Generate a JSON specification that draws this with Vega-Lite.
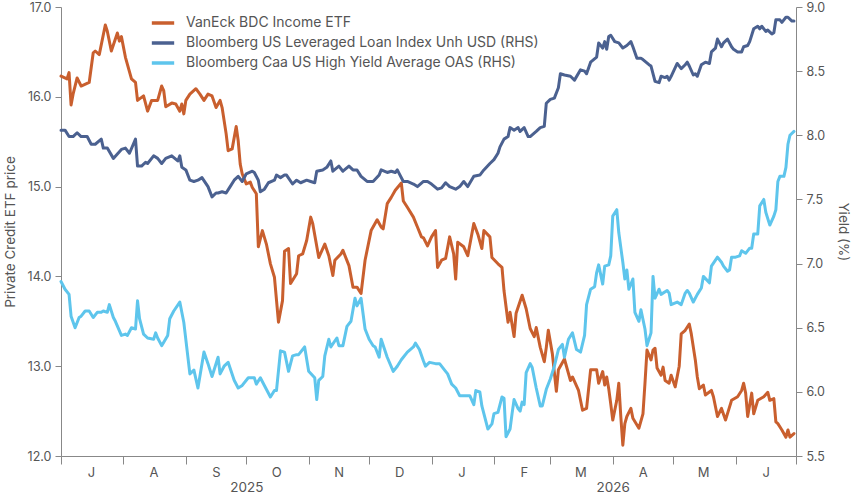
{
"$schema": "https://vega.github.io/schema/vega-lite/v6.json",
"width": 735, "height": 449,
"autosize": {"type": "none"},
"padding": {"left": 61, "top": 7, "right": 59, "bottom": 41},
"background": "white",
"config": {
 "view": {"stroke": null},
 "font": "Inter",
 "axis": {"grid": false, "labelFont": "Inter", "titleFont": "Inter", "labelColor": "#555", "titleColor": "#555", "domainColor": "#888", "tickColor": "#888", "labelFontSize": 12.5, "titleFontSize": 13.5, "titleFontWeight": "normal"},
 "legend": {"labelFont": "Inter", "labelFontSize": 14, "labelColor": "#555"}
},
"datasets": {
 "etf": [
  {"date":"2025-07-01","value":16.23},{"date":"2025-07-04","value":16.20},{"date":"2025-07-05","value":16.27},{"date":"2025-07-06","value":15.91},{"date":"2025-07-07","value":16.03},{"date":"2025-07-09","value":16.21},{"date":"2025-07-11","value":16.12},{"date":"2025-07-15","value":16.16},{"date":"2025-07-17","value":16.49},{"date":"2025-07-18","value":16.51},{"date":"2025-07-20","value":16.47},{"date":"2025-07-23","value":16.80},{"date":"2025-07-24","value":16.73},{"date":"2025-07-26","value":16.51},{"date":"2025-07-29","value":16.71},{"date":"2025-07-30","value":16.62},{"date":"2025-07-31","value":16.67},
  {"date":"2025-08-02","value":16.44},{"date":"2025-08-05","value":16.20},{"date":"2025-08-07","value":16.16},{"date":"2025-08-08","value":15.96},{"date":"2025-08-11","value":16.01},{"date":"2025-08-13","value":15.84},{"date":"2025-08-15","value":15.96},{"date":"2025-08-18","value":15.96},{"date":"2025-08-20","value":16.12},{"date":"2025-08-21","value":16.07},{"date":"2025-08-22","value":15.89},{"date":"2025-08-25","value":15.93},{"date":"2025-08-27","value":15.92},{"date":"2025-08-29","value":15.84},{"date":"2025-08-30","value":15.92},{"date":"2025-08-31","value":15.81},
  {"date":"2025-09-01","value":15.96},{"date":"2025-09-03","value":16.03},{"date":"2025-09-06","value":16.09},{"date":"2025-09-08","value":16.03},{"date":"2025-09-10","value":15.96},{"date":"2025-09-12","value":16.03},{"date":"2025-09-14","value":16.01},{"date":"2025-09-16","value":15.88},{"date":"2025-09-18","value":15.96},{"date":"2025-09-19","value":15.88},{"date":"2025-09-21","value":15.59},{"date":"2025-09-22","value":15.40},{"date":"2025-09-24","value":15.42},{"date":"2025-09-26","value":15.67},{"date":"2025-09-27","value":15.51},{"date":"2025-09-28","value":15.25},{"date":"2025-09-29","value":15.14},
  {"date":"2025-10-01","value":15.03},{"date":"2025-10-03","value":15.05},{"date":"2025-10-04","value":14.99},{"date":"2025-10-06","value":14.92},{"date":"2025-10-07","value":14.33},{"date":"2025-10-09","value":14.51},{"date":"2025-10-11","value":14.36},{"date":"2025-10-13","value":14.14},{"date":"2025-10-15","value":13.99},{"date":"2025-10-17","value":13.49},{"date":"2025-10-19","value":13.73},{"date":"2025-10-20","value":14.28},{"date":"2025-10-22","value":14.31},{"date":"2025-10-23","value":13.92},{"date":"2025-10-26","value":14.03},{"date":"2025-10-27","value":14.23},{"date":"2025-10-29","value":14.25},{"date":"2025-10-31","value":14.40},
  {"date":"2025-11-02","value":14.66},{"date":"2025-11-03","value":14.59},{"date":"2025-11-06","value":14.21},{"date":"2025-11-09","value":14.36},{"date":"2025-11-11","value":14.23},{"date":"2025-11-13","value":14.01},{"date":"2025-11-14","value":14.18},{"date":"2025-11-17","value":14.25},{"date":"2025-11-18","value":14.29},{"date":"2025-11-21","value":14.12},{"date":"2025-11-23","value":13.88},{"date":"2025-11-25","value":13.88},{"date":"2025-11-27","value":13.81},{"date":"2025-11-29","value":14.18},
  {"date":"2025-12-02","value":14.51},{"date":"2025-12-05","value":14.63},{"date":"2025-12-07","value":14.55},{"date":"2025-12-08","value":14.53},{"date":"2025-12-10","value":14.81},{"date":"2025-12-12","value":14.88},{"date":"2025-12-14","value":14.96},{"date":"2025-12-17","value":15.04},{"date":"2025-12-18","value":14.84},{"date":"2025-12-20","value":14.77},{"date":"2025-12-23","value":14.66},{"date":"2025-12-25","value":14.55},{"date":"2025-12-27","value":14.44},{"date":"2025-12-28","value":14.43},{"date":"2025-12-30","value":14.34},
  {"date":"2026-01-01","value":14.44},{"date":"2026-01-03","value":14.51},{"date":"2026-01-04","value":14.10},{"date":"2026-01-06","value":14.18},{"date":"2026-01-08","value":14.20},{"date":"2026-01-10","value":14.44},{"date":"2026-01-12","value":14.25},{"date":"2026-01-13","value":13.97},{"date":"2026-01-14","value":14.38},{"date":"2026-01-17","value":14.33},{"date":"2026-01-19","value":14.23},{"date":"2026-01-22","value":14.59},{"date":"2026-01-24","value":14.47},{"date":"2026-01-26","value":14.31},{"date":"2026-01-27","value":14.51},{"date":"2026-01-30","value":14.44},{"date":"2026-01-31","value":14.21},
  {"date":"2026-02-03","value":14.14},{"date":"2026-02-05","value":14.10},{"date":"2026-02-06","value":13.84},{"date":"2026-02-08","value":13.49},{"date":"2026-02-09","value":13.60},{"date":"2026-02-11","value":13.33},{"date":"2026-02-12","value":13.59},{"date":"2026-02-15","value":13.79},{"date":"2026-02-17","value":13.64},{"date":"2026-02-19","value":13.42},{"date":"2026-02-21","value":13.33},{"date":"2026-02-22","value":13.43},{"date":"2026-02-24","value":13.21},{"date":"2026-02-26","value":13.05},{"date":"2026-02-27","value":13.21},{"date":"2026-02-28","value":13.40},
  {"date":"2026-03-02","value":13.14},{"date":"2026-03-04","value":12.72},{"date":"2026-03-05","value":12.96},{"date":"2026-03-08","value":13.08},{"date":"2026-03-11","value":12.84},{"date":"2026-03-12","value":12.88},{"date":"2026-03-15","value":12.73},{"date":"2026-03-17","value":12.51},{"date":"2026-03-19","value":12.53},{"date":"2026-03-21","value":12.96},{"date":"2026-03-24","value":12.96},{"date":"2026-03-25","value":12.81},{"date":"2026-03-27","value":12.94},{"date":"2026-03-28","value":12.79},{"date":"2026-03-29","value":12.88},{"date":"2026-03-30","value":12.75},{"date":"2026-03-31","value":12.58},
  {"date":"2026-04-01","value":12.40},{"date":"2026-04-03","value":12.62},{"date":"2026-04-04","value":12.81},{"date":"2026-04-05","value":12.44},{"date":"2026-04-06","value":12.12},{"date":"2026-04-07","value":12.36},{"date":"2026-04-08","value":12.44},{"date":"2026-04-10","value":12.53},{"date":"2026-04-11","value":12.42},{"date":"2026-04-14","value":12.31},{"date":"2026-04-16","value":12.47},{"date":"2026-04-17","value":12.81},{"date":"2026-04-18","value":13.18},{"date":"2026-04-20","value":13.07},{"date":"2026-04-21","value":13.18},{"date":"2026-04-22","value":13.20},{"date":"2026-04-23","value":12.98},{"date":"2026-04-25","value":12.90},{"date":"2026-04-26","value":12.99},{"date":"2026-04-27","value":12.84},{"date":"2026-04-29","value":12.81},{"date":"2026-04-30","value":12.90},
  {"date":"2026-05-02","value":12.77},{"date":"2026-05-04","value":13.00},{"date":"2026-05-05","value":13.36},{"date":"2026-05-07","value":13.40},{"date":"2026-05-09","value":13.47},{"date":"2026-05-10","value":13.36},{"date":"2026-05-12","value":13.07},{"date":"2026-05-13","value":12.88},{"date":"2026-05-14","value":12.75},{"date":"2026-05-16","value":12.79},{"date":"2026-05-17","value":12.68},{"date":"2026-05-20","value":12.73},{"date":"2026-05-21","value":12.66},{"date":"2026-05-23","value":12.44},{"date":"2026-05-25","value":12.53},{"date":"2026-05-27","value":12.40},{"date":"2026-05-30","value":12.62},
  {"date":"2026-06-02","value":12.66},{"date":"2026-06-04","value":12.73},{"date":"2026-06-05","value":12.81},{"date":"2026-06-06","value":12.70},{"date":"2026-06-07","value":12.44},{"date":"2026-06-09","value":12.70},{"date":"2026-06-10","value":12.47},{"date":"2026-06-12","value":12.62},{"date":"2026-06-15","value":12.66},{"date":"2026-06-17","value":12.71},{"date":"2026-06-18","value":12.62},{"date":"2026-06-20","value":12.64},{"date":"2026-06-21","value":12.38},{"date":"2026-06-22","value":12.36},{"date":"2026-06-24","value":12.29},{"date":"2026-06-26","value":12.21},{"date":"2026-06-27","value":12.29},{"date":"2026-06-28","value":12.21},{"date":"2026-06-30","value":12.25}
 ],
 "loan": [
  {"date":"2025-07-01","value":8.04},{"date":"2025-07-03","value":8.04},{"date":"2025-07-05","value":7.99},{"date":"2025-07-07","value":7.99},{"date":"2025-07-09","value":8.02},{"date":"2025-07-11","value":7.99},{"date":"2025-07-14","value":7.99},{"date":"2025-07-16","value":7.93},{"date":"2025-07-18","value":7.93},{"date":"2025-07-21","value":7.97},{"date":"2025-07-22","value":7.90},{"date":"2025-07-24","value":7.90},{"date":"2025-07-27","value":7.82},{"date":"2025-07-31","value":7.89},
  {"date":"2025-08-02","value":7.90},{"date":"2025-08-04","value":7.86},{"date":"2025-08-07","value":7.97},{"date":"2025-08-08","value":7.76},{"date":"2025-08-10","value":7.76},{"date":"2025-08-12","value":7.79},{"date":"2025-08-13","value":7.78},{"date":"2025-08-16","value":7.84},{"date":"2025-08-18","value":7.82},{"date":"2025-08-20","value":7.78},{"date":"2025-08-22","value":7.82},{"date":"2025-08-25","value":7.84},{"date":"2025-08-28","value":7.80},{"date":"2025-08-29","value":7.84},{"date":"2025-08-30","value":7.75},
  {"date":"2025-09-01","value":7.73},{"date":"2025-09-03","value":7.65},{"date":"2025-09-05","value":7.64},{"date":"2025-09-07","value":7.65},{"date":"2025-09-09","value":7.67},{"date":"2025-09-12","value":7.60},{"date":"2025-09-14","value":7.52},{"date":"2025-09-16","value":7.55},{"date":"2025-09-17","value":7.55},{"date":"2025-09-19","value":7.56},{"date":"2025-09-21","value":7.55},{"date":"2025-09-23","value":7.60},{"date":"2025-09-25","value":7.65},{"date":"2025-09-27","value":7.68},{"date":"2025-09-29","value":7.64},
  {"date":"2025-10-01","value":7.70},{"date":"2025-10-04","value":7.72},{"date":"2025-10-05","value":7.71},{"date":"2025-10-07","value":7.65},{"date":"2025-10-08","value":7.56},{"date":"2025-10-10","value":7.58},{"date":"2025-10-12","value":7.63},{"date":"2025-10-15","value":7.65},{"date":"2025-10-16","value":7.69},{"date":"2025-10-18","value":7.67},{"date":"2025-10-20","value":7.69},{"date":"2025-10-21","value":7.69},{"date":"2025-10-24","value":7.62},{"date":"2025-10-26","value":7.65},{"date":"2025-10-28","value":7.63},{"date":"2025-10-31","value":7.65},
  {"date":"2025-11-02","value":7.64},{"date":"2025-11-04","value":7.63},{"date":"2025-11-05","value":7.72},{"date":"2025-11-08","value":7.73},{"date":"2025-11-10","value":7.75},{"date":"2025-11-12","value":7.80},{"date":"2025-11-13","value":7.72},{"date":"2025-11-16","value":7.76},{"date":"2025-11-18","value":7.72},{"date":"2025-11-21","value":7.76},{"date":"2025-11-23","value":7.73},{"date":"2025-11-25","value":7.73},{"date":"2025-11-27","value":7.68},{"date":"2025-11-30","value":7.64},
  {"date":"2025-12-03","value":7.64},{"date":"2025-12-06","value":7.69},{"date":"2025-12-07","value":7.73},{"date":"2025-12-10","value":7.71},{"date":"2025-12-12","value":7.72},{"date":"2025-12-14","value":7.71},{"date":"2025-12-15","value":7.73},{"date":"2025-12-18","value":7.64},{"date":"2025-12-20","value":7.64},{"date":"2025-12-23","value":7.62},{"date":"2025-12-25","value":7.60},{"date":"2025-12-28","value":7.64},{"date":"2025-12-30","value":7.64},
  {"date":"2026-01-01","value":7.62},{"date":"2026-01-04","value":7.58},{"date":"2026-01-06","value":7.59},{"date":"2026-01-08","value":7.63},{"date":"2026-01-10","value":7.60},{"date":"2026-01-13","value":7.58},{"date":"2026-01-15","value":7.60},{"date":"2026-01-17","value":7.64},{"date":"2026-01-19","value":7.60},{"date":"2026-01-22","value":7.68},{"date":"2026-01-25","value":7.69},{"date":"2026-01-27","value":7.73},{"date":"2026-01-30","value":7.78},
  {"date":"2026-02-01","value":7.81},{"date":"2026-02-03","value":7.86},{"date":"2026-02-04","value":7.91},{"date":"2026-02-06","value":7.97},{"date":"2026-02-08","value":7.99},{"date":"2026-02-09","value":8.06},{"date":"2026-02-11","value":8.04},{"date":"2026-02-13","value":8.06},{"date":"2026-02-14","value":8.03},{"date":"2026-02-16","value":8.06},{"date":"2026-02-18","value":7.99},{"date":"2026-02-19","value":7.99},{"date":"2026-02-22","value":8.03},{"date":"2026-02-24","value":8.06},{"date":"2026-02-26","value":8.07},{"date":"2026-02-27","value":8.25},
  {"date":"2026-03-01","value":8.28},{"date":"2026-03-03","value":8.29},{"date":"2026-03-05","value":8.37},{"date":"2026-03-06","value":8.48},{"date":"2026-03-08","value":8.47},{"date":"2026-03-11","value":8.46},{"date":"2026-03-13","value":8.43},{"date":"2026-03-16","value":8.51},{"date":"2026-03-18","value":8.50},{"date":"2026-03-19","value":8.48},{"date":"2026-03-21","value":8.57},{"date":"2026-03-24","value":8.61},{"date":"2026-03-25","value":8.72},{"date":"2026-03-27","value":8.68},{"date":"2026-03-28","value":8.73},{"date":"2026-03-29","value":8.67},{"date":"2026-03-30","value":8.77},{"date":"2026-03-31","value":8.78},
  {"date":"2026-04-02","value":8.73},{"date":"2026-04-04","value":8.72},{"date":"2026-04-06","value":8.68},{"date":"2026-04-08","value":8.70},{"date":"2026-04-10","value":8.73},{"date":"2026-04-11","value":8.69},{"date":"2026-04-13","value":8.60},{"date":"2026-04-15","value":8.60},{"date":"2026-04-16","value":8.59},{"date":"2026-04-19","value":8.55},{"date":"2026-04-20","value":8.54},{"date":"2026-04-22","value":8.42},{"date":"2026-04-24","value":8.41},{"date":"2026-04-25","value":8.46},{"date":"2026-04-27","value":8.45},{"date":"2026-04-28","value":8.46},{"date":"2026-04-29","value":8.43},{"date":"2026-04-30","value":8.46},
  {"date":"2026-05-03","value":8.56},{"date":"2026-05-05","value":8.52},{"date":"2026-05-07","value":8.55},{"date":"2026-05-08","value":8.57},{"date":"2026-05-09","value":8.54},{"date":"2026-05-11","value":8.47},{"date":"2026-05-12","value":8.48},{"date":"2026-05-13","value":8.46},{"date":"2026-05-15","value":8.55},{"date":"2026-05-17","value":8.57},{"date":"2026-05-19","value":8.56},{"date":"2026-05-20","value":8.65},{"date":"2026-05-22","value":8.68},{"date":"2026-05-23","value":8.75},{"date":"2026-05-25","value":8.69},{"date":"2026-05-26","value":8.72},{"date":"2026-05-28","value":8.75},{"date":"2026-05-30","value":8.69},{"date":"2026-05-31","value":8.67},
  {"date":"2026-06-02","value":8.65},{"date":"2026-06-04","value":8.65},{"date":"2026-06-05","value":8.69},{"date":"2026-06-07","value":8.70},{"date":"2026-06-08","value":8.73},{"date":"2026-06-10","value":8.83},{"date":"2026-06-12","value":8.85},{"date":"2026-06-13","value":8.83},{"date":"2026-06-14","value":8.85},{"date":"2026-06-16","value":8.81},{"date":"2026-06-17","value":8.82},{"date":"2026-06-19","value":8.79},{"date":"2026-06-20","value":8.80},{"date":"2026-06-21","value":8.90},{"date":"2026-06-23","value":8.90},{"date":"2026-06-24","value":8.88},{"date":"2026-06-26","value":8.92},{"date":"2026-06-27","value":8.92},{"date":"2026-06-29","value":8.89},{"date":"2026-06-30","value":8.89}
 ],
 "caa": [
  {"date":"2025-07-01","value":6.86},{"date":"2025-07-03","value":6.80},{"date":"2025-07-05","value":6.76},{"date":"2025-07-06","value":6.59},{"date":"2025-07-08","value":6.50},{"date":"2025-07-10","value":6.58},{"date":"2025-07-11","value":6.59},{"date":"2025-07-13","value":6.63},{"date":"2025-07-15","value":6.63},{"date":"2025-07-17","value":6.58},{"date":"2025-07-19","value":6.62},{"date":"2025-07-21","value":6.62},{"date":"2025-07-22","value":6.63},{"date":"2025-07-24","value":6.62},{"date":"2025-07-25","value":6.68},{"date":"2025-07-27","value":6.58},{"date":"2025-07-28","value":6.55},{"date":"2025-07-31","value":6.44},
  {"date":"2025-08-02","value":6.45},{"date":"2025-08-03","value":6.44},{"date":"2025-08-05","value":6.50},{"date":"2025-08-07","value":6.49},{"date":"2025-08-08","value":6.71},{"date":"2025-08-09","value":6.57},{"date":"2025-08-11","value":6.45},{"date":"2025-08-13","value":6.42},{"date":"2025-08-16","value":6.41},{"date":"2025-08-17","value":6.46},{"date":"2025-08-18","value":6.42},{"date":"2025-08-20","value":6.36},{"date":"2025-08-23","value":6.44},{"date":"2025-08-24","value":6.57},{"date":"2025-08-26","value":6.63},{"date":"2025-08-29","value":6.70},{"date":"2025-08-31","value":6.54},
  {"date":"2025-09-03","value":6.14},{"date":"2025-09-05","value":6.17},{"date":"2025-09-07","value":6.03},{"date":"2025-09-10","value":6.31},{"date":"2025-09-12","value":6.22},{"date":"2025-09-14","value":6.12},{"date":"2025-09-17","value":6.27},{"date":"2025-09-18","value":6.14},{"date":"2025-09-20","value":6.20},{"date":"2025-09-22","value":6.23},{"date":"2025-09-25","value":6.09},{"date":"2025-09-27","value":6.03},{"date":"2025-09-29","value":6.05},
  {"date":"2025-10-02","value":6.11},{"date":"2025-10-05","value":6.11},{"date":"2025-10-06","value":6.06},{"date":"2025-10-08","value":6.11},{"date":"2025-10-10","value":6.05},{"date":"2025-10-13","value":5.96},{"date":"2025-10-15","value":6.01},{"date":"2025-10-16","value":6.01},{"date":"2025-10-18","value":6.32},{"date":"2025-10-20","value":6.31},{"date":"2025-10-22","value":6.16},{"date":"2025-10-24","value":6.28},{"date":"2025-10-26","value":6.29},{"date":"2025-10-27","value":6.29},{"date":"2025-10-30","value":6.35},
  {"date":"2025-11-01","value":6.16},{"date":"2025-11-04","value":6.11},{"date":"2025-11-05","value":5.94},{"date":"2025-11-06","value":6.09},{"date":"2025-11-08","value":6.12},{"date":"2025-11-09","value":6.28},{"date":"2025-11-11","value":6.41},{"date":"2025-11-12","value":6.35},{"date":"2025-11-15","value":6.42},{"date":"2025-11-16","value":6.36},{"date":"2025-11-18","value":6.36},{"date":"2025-11-20","value":6.51},{"date":"2025-11-22","value":6.55},{"date":"2025-11-24","value":6.73},{"date":"2025-11-25","value":6.67},{"date":"2025-11-27","value":6.73},{"date":"2025-11-29","value":6.49},
  {"date":"2025-12-01","value":6.41},{"date":"2025-12-03","value":6.36},{"date":"2025-12-04","value":6.35},{"date":"2025-12-06","value":6.27},{"date":"2025-12-07","value":6.41},{"date":"2025-12-10","value":6.27},{"date":"2025-12-13","value":6.16},{"date":"2025-12-15","value":6.20},{"date":"2025-12-17","value":6.25},{"date":"2025-12-20","value":6.31},{"date":"2025-12-23","value":6.35},{"date":"2025-12-24","value":6.38},{"date":"2025-12-26","value":6.33},{"date":"2025-12-28","value":6.24},{"date":"2025-12-29","value":6.20},{"date":"2025-12-31","value":6.23},
  {"date":"2026-01-03","value":6.22},{"date":"2026-01-05","value":6.22},{"date":"2026-01-08","value":6.16},{"date":"2026-01-09","value":6.14},{"date":"2026-01-11","value":6.06},{"date":"2026-01-13","value":6.03},{"date":"2026-01-15","value":5.97},{"date":"2026-01-18","value":5.97},{"date":"2026-01-20","value":5.97},{"date":"2026-01-22","value":5.90},{"date":"2026-01-23","value":6.01},{"date":"2026-01-25","value":6.00},{"date":"2026-01-26","value":5.89},{"date":"2026-01-29","value":5.71},{"date":"2026-01-31","value":5.75},
  {"date":"2026-02-01","value":5.83},{"date":"2026-02-03","value":5.84},{"date":"2026-02-05","value":5.96},{"date":"2026-02-06","value":5.95},{"date":"2026-02-07","value":5.65},{"date":"2026-02-09","value":5.71},{"date":"2026-02-10","value":5.83},{"date":"2026-02-11","value":5.94},{"date":"2026-02-13","value":5.87},{"date":"2026-02-14","value":5.85},{"date":"2026-02-15","value":5.92},{"date":"2026-02-16","value":5.90},{"date":"2026-02-17","value":6.15},{"date":"2026-02-19","value":6.22},{"date":"2026-02-20","value":6.19},{"date":"2026-02-22","value":6.03},{"date":"2026-02-24","value":5.89},{"date":"2026-02-25","value":5.89},{"date":"2026-02-27","value":6.02},
  {"date":"2026-03-01","value":6.10},{"date":"2026-03-03","value":6.20},{"date":"2026-03-05","value":6.33},{"date":"2026-03-07","value":6.37},{"date":"2026-03-08","value":6.27},{"date":"2026-03-10","value":6.41},{"date":"2026-03-12","value":6.46},{"date":"2026-03-14","value":6.33},{"date":"2026-03-16","value":6.31},{"date":"2026-03-18","value":6.44},{"date":"2026-03-19","value":6.68},{"date":"2026-03-21","value":6.80},{"date":"2026-03-23","value":6.82},{"date":"2026-03-24","value":6.93},{"date":"2026-03-25","value":6.99},{"date":"2026-03-27","value":6.84},{"date":"2026-03-28","value":6.98},{"date":"2026-03-30","value":6.99},{"date":"2026-03-31","value":7.06},
  {"date":"2026-04-01","value":7.37},{"date":"2026-04-03","value":7.42},{"date":"2026-04-04","value":7.24},{"date":"2026-04-06","value":7.01},{"date":"2026-04-07","value":6.88},{"date":"2026-04-08","value":6.95},{"date":"2026-04-09","value":6.80},{"date":"2026-04-11","value":6.88},{"date":"2026-04-12","value":6.62},{"date":"2026-04-14","value":6.55},{"date":"2026-04-15","value":6.64},{"date":"2026-04-17","value":6.49},{"date":"2026-04-18","value":6.36},{"date":"2026-04-20","value":6.46},{"date":"2026-04-21","value":6.90},{"date":"2026-04-22","value":6.73},{"date":"2026-04-24","value":6.80},{"date":"2026-04-25","value":6.76},{"date":"2026-04-28","value":6.79},{"date":"2026-04-29","value":6.77},{"date":"2026-04-30","value":6.68},
  {"date":"2026-05-03","value":6.70},{"date":"2026-05-05","value":6.68},{"date":"2026-05-07","value":6.77},{"date":"2026-05-08","value":6.79},{"date":"2026-05-09","value":6.77},{"date":"2026-05-11","value":6.70},{"date":"2026-05-13","value":6.76},{"date":"2026-05-15","value":6.81},{"date":"2026-05-16","value":6.90},{"date":"2026-05-19","value":6.85},{"date":"2026-05-20","value":6.98},{"date":"2026-05-23","value":7.05},{"date":"2026-05-25","value":7.01},{"date":"2026-05-26","value":6.98},{"date":"2026-05-28","value":6.94},{"date":"2026-05-29","value":6.95},{"date":"2026-05-30","value":7.05},
  {"date":"2026-06-01","value":7.05},{"date":"2026-06-03","value":7.06},{"date":"2026-06-04","value":7.10},{"date":"2026-06-06","value":7.08},{"date":"2026-06-08","value":7.12},{"date":"2026-06-09","value":7.12},{"date":"2026-06-10","value":7.23},{"date":"2026-06-12","value":7.23},{"date":"2026-06-13","value":7.45},{"date":"2026-06-15","value":7.50},{"date":"2026-06-16","value":7.40},{"date":"2026-06-18","value":7.30},{"date":"2026-06-20","value":7.37},{"date":"2026-06-21","value":7.42},{"date":"2026-06-22","value":7.64},{"date":"2026-06-23","value":7.68},{"date":"2026-06-25","value":7.68},{"date":"2026-06-26","value":7.75},{"date":"2026-06-27","value":7.93},{"date":"2026-06-28","value":8.00},{"date":"2026-06-30","value":8.03}
 ]
},
"layer": [
 {
  "data": {"name": "etf"},
  "mark": {"type": "line", "strokeWidth": 3, "strokeJoin": "round", "strokeCap": "round"},
  "encoding": {
   "x": {"field": "date", "type": "temporal",
    "scale": {"type": "utc", "domain": [{"year": 2025, "month": 7, "date": 1, "utc": true}, {"year": 2026, "month": 7, "date": 1, "utc": true}]},
    "axis": {"orient": "bottom", "title": null, "values": [
      {"year": 2025, "month": 7, "date": 1, "utc": true}, {"year": 2025, "month": 8, "date": 1, "utc": true}, {"year": 2025, "month": 9, "date": 1, "utc": true}, {"year": 2025, "month": 10, "date": 1, "utc": true}, {"year": 2025, "month": 11, "date": 1, "utc": true}, {"year": 2025, "month": 12, "date": 1, "utc": true},
      {"year": 2026, "month": 1, "date": 1, "utc": true}, {"year": 2026, "month": 2, "date": 1, "utc": true}, {"year": 2026, "month": 3, "date": 1, "utc": true}, {"year": 2026, "month": 4, "date": 1, "utc": true}, {"year": 2026, "month": 5, "date": 1, "utc": true}, {"year": 2026, "month": 6, "date": 1, "utc": true}, {"year": 2026, "month": 7, "date": 1, "utc": true}],
     "labelExpr": "datum.value >= utc(2026, 6, 1) ? '' : substring(utcFormat(datum.value, '%b'), 0, 1)",
     "labelOffset": 30, "tickSize": 8, "labelPadding": 2, "labelFontSize": 13, "labelOverlap": false, "labelBound": false, "labelFlush": false}},
   "y": {"field": "value", "type": "quantitative",
    "scale": {"domain": [12, 17], "nice": false, "zero": false},
    "axis": {"orient": "left", "title": "Private Credit ETF price", "values": [12, 13, 14, 15, 16, 17], "format": ".1f", "tickSize": 6, "labelPadding": 4, "titlePadding": 10}},
   "color": {"datum": "VanEck BDC Income ETF", "type": "nominal",
    "scale": {"domain": ["VanEck BDC Income ETF", "Bloomberg US Leveraged Loan Index Unh USD (RHS)", "Bloomberg Caa US High Yield Average OAS (RHS)"], "range": ["#C95F2E", "#4B6190", "#5EC5EC"]},
    "legend": {"title": null, "orient": "none", "legendX": 89, "legendY": 3, "symbolType": "stroke", "symbolSize": 500, "symbolStrokeWidth": 3.5, "rowPadding": 0, "labelOffset": 10, "labelLimit": 500}}
  }
 },
 {
  "layer": [
   {
    "data": {"name": "loan"},
    "mark": {"type": "line", "strokeWidth": 3, "strokeJoin": "round", "strokeCap": "round"},
    "encoding": {
     "x": {"field": "date", "type": "temporal",
      "axis": {"orient": "bottom", "title": null, "values": [{"year": 2025, "month": 10, "date": 1, "utc": true}, {"year": 2026, "month": 4, "date": 1, "utc": true}], "labelExpr": "utcFormat(datum.value, '%Y')", "ticks": false, "domain": false, "labelPadding": 24, "labelFontSize": 13.5}},
     "y": {"field": "value", "type": "quantitative",
      "scale": {"domain": [5.5, 9], "nice": false, "zero": false},
      "axis": {"orient": "right", "title": "Yield (%)", "values": [5.5, 6, 6.5, 7, 7.5, 8, 8.5, 9], "format": ".1f", "tickSize": 6, "labelPadding": 4, "titlePadding": 11}},
     "color": {"datum": "Bloomberg US Leveraged Loan Index Unh USD (RHS)", "type": "nominal"}
    }
   },
   {
    "data": {"name": "caa"},
    "mark": {"type": "line", "strokeWidth": 3, "strokeJoin": "round", "strokeCap": "round"},
    "encoding": {
     "x": {"field": "date", "type": "temporal",
      "axis": {"orient": "bottom", "title": null, "values": [{"year": 2025, "month": 10, "date": 1, "utc": true}, {"year": 2026, "month": 4, "date": 1, "utc": true}], "labelExpr": "utcFormat(datum.value, '%Y')", "ticks": false, "domain": false, "labelPadding": 24, "labelFontSize": 13.5}},
     "y": {"field": "value", "type": "quantitative",
      "axis": {"orient": "right", "title": "Yield (%)", "values": [5.5, 6, 6.5, 7, 7.5, 8, 8.5, 9], "format": ".1f", "tickSize": 6, "labelPadding": 4, "titlePadding": 11}},
     "color": {"datum": "Bloomberg Caa US High Yield Average OAS (RHS)", "type": "nominal"}
    }
   }
  ]
 }
],
"resolve": {"scale": {"y": "independent"}, "axis": {"x": "independent"}}
}
